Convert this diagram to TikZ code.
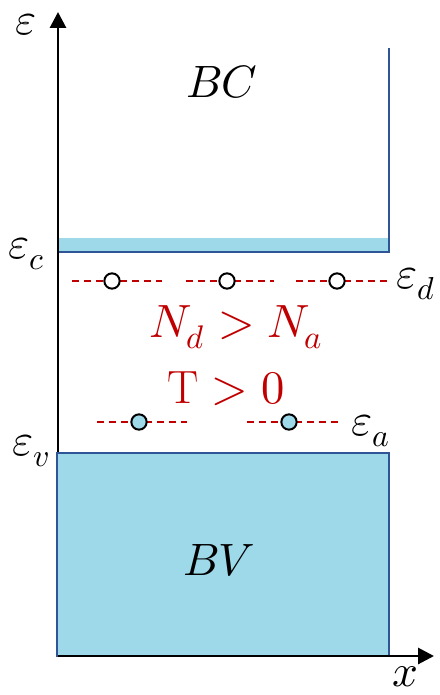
\documentclass[tikz,border=0pt]{standalone}
\usepackage{unicode-math}
\setmathfont{Latin Modern Math}
\usetikzlibrary{arrows.meta}
\definecolor{bandfill}{HTML}{9DD9E9}
\definecolor{bandline}{HTML}{2F5597}
\definecolor{lvlred}{HTML}{C00000}
\tikzset{
  axisline/.style={line width=2.2pt,-{Triangle[length=12pt,width=12pt]}},
  bandedge/.style={draw=bandline,line width=1.6pt},
  lvl/.style={draw=lvlred,line width=2.2pt,dash pattern=on 5.5pt off 3.5pt},
  state/.style={circle,draw=black,line width=1.5pt,minimum size=11.5pt,inner sep=0pt},
  lab/.style={font=\fontsize{34}{38}\selectfont,inner sep=0pt,anchor=base west},
  bigl/.style={font=\fontsize{34}{38}\selectfont,inner sep=0pt,anchor=base},
  redlab/.style={font=\fontsize{35}{40}\selectfont,text=lvlred,inner sep=0pt,anchor=base}
}
\begin{document}
\begin{tikzpicture}[x=0.75pt,y=-0.75pt]
\useasboundingbox (0,0) rectangle (439,695);
% bands
\fill[bandfill] (58,238) rectangle (389,252);
\draw[bandedge] (58,252) -- (389,252) -- (389,48);
% axes
\coordinate (O) at (58,656);
\coordinate (ytop) at (58,12);
\coordinate (xend) at (434,656);
\draw[axisline] (O) -- (ytop);
\draw[bandedge,fill=bandfill] (57,453) rectangle (389,656);
\draw[axisline] (O) -- (xend);
% donor levels
\coordinate (d1a) at (72,281); \coordinate (d1b) at (162,281);
\coordinate (d2a) at (186,281); \coordinate (d2b) at (274,281);
\coordinate (d3a) at (296,281); \coordinate (d3b) at (388,281);
\draw[lvl] (d1a) -- (d1b);
\draw[lvl] (d2a) -- (d2b);
\draw[lvl] (d3a) -- (d3b);
\node[state,fill=white] (sd1) at (112,281) {};
\node[state,fill=white] (sd2) at (227,281) {};
\node[state,fill=white] (sd3) at (337,281) {};
% acceptor levels
\coordinate (a1a) at (97,422); \coordinate (a1b) at (187,422);
\coordinate (a2a) at (247,422); \coordinate (a2b) at (338,422);
\draw[lvl] (a1a) -- (a1b);
\draw[lvl] (a2a) -- (a2b);
\node[state,fill=bandfill] (sa1) at (139,422) {};
\node[state,fill=bandfill] (sa2) at (289,422) {};
% labels
\node[lab] (eps) at (15,35) {$\varepsilon$};
\node[lab] (epsc) at (8,258) {$\varepsilon_c$};
\node[lab] (epsd) at (396,288) {$\varepsilon_d$};
\node[lab] (epsa) at (351,435) {$\varepsilon_a$};
\node[lab] (epsv) at (12,455) {$\varepsilon_v$};
\node[lab] (xlab) at (392,686) {$x$};
\node[bigl] (bc) at (222,98) {$BC$};
\node[bigl] (bv) at (219,575) {$BV$};
\node[redlab] (ndna) at (236,337) {$N_d > N_a$};
\node[redlab] (temp) at (226,403) {$\mathrm{T} > 0$};
\end{tikzpicture}
\end{document}
